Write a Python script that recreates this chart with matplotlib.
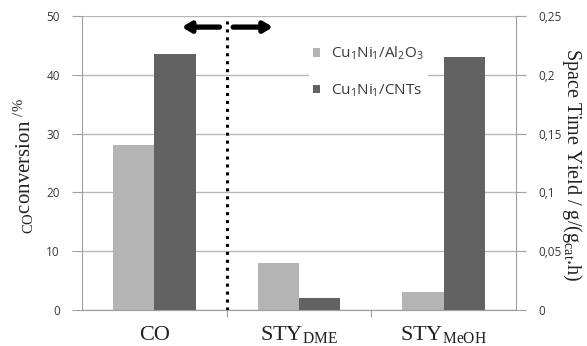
import matplotlib
matplotlib.use("Agg")
import matplotlib.pyplot as plt
import numpy as np

categories = ["CO", "STY$_{\\mathregular{DME}}$", "STY$_{\\mathregular{MeOH}}$"]
series_names = ["Cu$_{\\mathregular{1}}$Ni$_{\\mathregular{1}}$/Al$_{\\mathregular{2}}$O$_{\\mathregular{3}}$",
                "Cu$_{\\mathregular{1}}$Ni$_{\\mathregular{1}}$/CNTs"]
# CO conversion (%) for first category, STY (g/(gcat.h)) for the others
al2o3 = [28.0, 0.040, 0.015]
cnts = [43.5, 0.010, 0.215]
is_sty = [False, True, True]
left_ticks = [0, 10, 20, 30, 40, 50]
right_ticks = [0, 0.05, 0.1, 0.15, 0.2, 0.25]
right_labels = ["0", "0,05", "0,1", "0,15", "0,2", "0,25"]

light = "#b4b4b4"
dark = "#626262"
grid_c = "#b8b8b8"
spine_c = "#a0a0a0"
tick_txt = "#383838"

plt.rcParams["mathtext.fontset"] = "custom"
plt.rcParams["mathtext.it"] = "Liberation Serif:italic"
plt.rcParams["mathtext.rm"] = "Liberation Serif"

fig = plt.figure(figsize=(5.87, 3.46), dpi=100)
ax = fig.add_axes([0.1397, 0.104, 0.7393, 0.850])
ax2 = ax.twinx()

scale = 50 / 0.25
v1 = [v * scale if s else v for v, s in zip(al2o3, is_sty)]
v2 = [v * scale if s else v for v, s in zip(cnts, is_sty)]
x = np.arange(len(categories))
w = 0.285
ax.bar(x - w / 2, v1, w, color=light, label=series_names[0], zorder=3)
ax.bar(x + w / 2, v2, w, color=dark, label=series_names[1], zorder=3)

ax.set_xlim(-0.5, 2.5)
ax.set_ylim(0, 50)
ax2.set_ylim(0, 0.25)
ax.set_yticks(left_ticks)
ax.set_yticklabels([str(t) for t in left_ticks], fontsize=8.5, color=tick_txt, family="Open Sans")
ax2.set_yticks(right_ticks)
ax2.set_yticklabels(right_labels, fontsize=8.5, color=tick_txt, family="Open Sans")
ax.yaxis.grid(True, color=grid_c, lw=1.0, zorder=0)
ax.set_axisbelow(True)

ax.set_xticks([0.5, 1.5], minor=False)
ax.set_xticklabels([])
ax.tick_params(axis="x", length=5, color=spine_c, direction="out")
ax.tick_params(axis="y", length=7, color=spine_c, pad=9)
ax2.tick_params(axis="y", length=7, color=spine_c, pad=9)
for i, c in enumerate(categories):
    ax.text(i, -5.1, c, ha="center", va="baseline", fontsize=16, family="Liberation Serif", color="#222222")

for a in (ax, ax2):
    a.spines["top"].set_visible(False)
    for s in ("left", "right", "bottom"):
        a.spines[s].set_color(spine_c)
ax2.spines["left"].set_visible(False)
ax.spines["right"].set_visible(False)

fig.text(0.041, 0.52, "$\\mathregular{_{CO}}$conversion $^{\\mathit{/\\%}}$", rotation=90,
         ha="center", va="center", fontsize=15, family="Liberation Serif", color="#222222")
fig.text(0.975, 0.525, "Space Time Yield / g/(g$_{\\mathregular{cat}}$.h)", rotation=270,
         ha="center", va="center", fontsize=14.5, family="Liberation Serif", color="#222222")

# dotted separator and arrows
ax.axvline(0.5, color="black", ls=(0, (1, 1.6)), lw=2.2, zorder=5)
ax.annotate("", xy=(0.19, 48.1), xytext=(0.45, 48.1),
            arrowprops=dict(arrowstyle="-|>,head_length=0.5,head_width=0.3", color="black", lw=3.8, shrinkA=0, shrinkB=0))
ax.annotate("", xy=(0.82, 48.1), xytext=(0.545, 48.1),
            arrowprops=dict(arrowstyle="-|>,head_length=0.5,head_width=0.3", color="black", lw=3.8, shrinkA=0, shrinkB=0))

leg = ax.legend(loc="center left", bbox_to_anchor=(0.505, 0.81), frameon=True,
                handlelength=0.45, handleheight=0.45, labelspacing=1.35, borderpad=0.3, handletextpad=0.7,
                prop={"family": "Open Sans", "size": 11})
leg.get_frame().set_edgecolor("none")
leg.get_frame().set_facecolor("white")
leg.get_frame().set_alpha(1)
for t in leg.get_texts():
    t.set_color(tick_txt)

fig.savefig("out.png", dpi=100)
